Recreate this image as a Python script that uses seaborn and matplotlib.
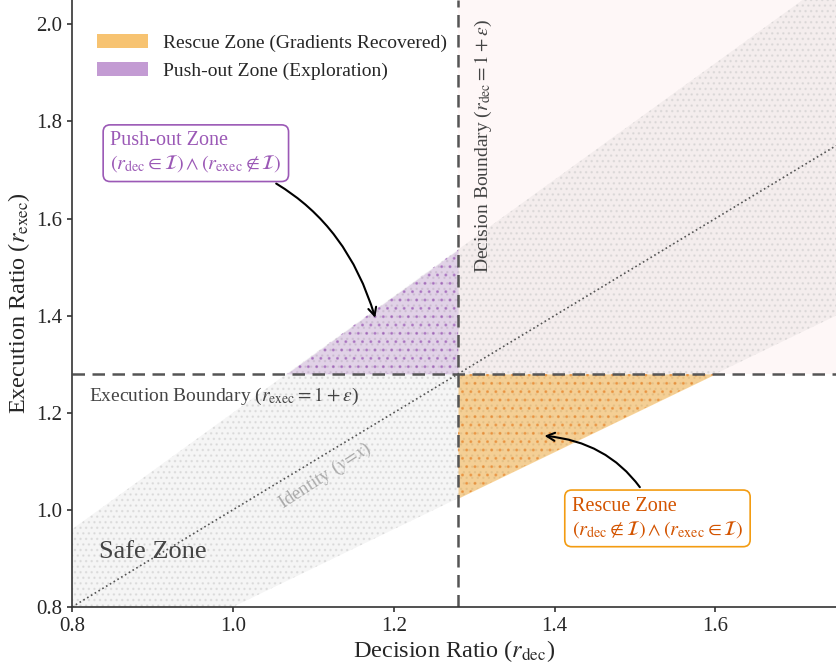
import numpy as np
import matplotlib
matplotlib.use('Agg')
import matplotlib.pyplot as plt
import seaborn as sns

# boundary / band parameters
eps = 0.28
band_lo = 0.8   # lower edge of sampled band: r_exec = 0.8 * r_dec
band_hi = 1.2   # upper edge: r_exec = 1.2 * r_dec
x_range = [0.8, 1.75]
y_range = [0.8, 2.05]
xticks = [0.8, 1.0, 1.2, 1.4, 1.6]
yticks = [0.8, 1.0, 1.2, 1.4, 1.6, 1.8, 2.0]

legend_labels = ['Rescue Zone (Gradients Recovered)', 'Push-out Zone (Exploration)']

sns.set_style('ticks')
plt.rcParams['font.family'] = ['Liberation Serif', 'DejaVu Serif']
plt.rcParams['mathtext.fontset'] = 'stix'
plt.rcParams['hatch.linewidth'] = 1.0

orange = '#F39C12'
orange_dark = '#E67E22'
purple = '#9B59B6'
purple_dark = '#8E44AD'
bound = 1 + eps

fig = plt.figure(figsize=(8.36, 6.64), dpi=100)
ax = fig.add_axes([72/836, 57/664, 764/836, 607/664])

# "both out" quadrant, faint red
ax.fill_between([bound, x_range[1]], bound, y_range[1], color='#E74C3C', alpha=0.04, lw=0)

# sampled band
bx = np.array(x_range)
ax.fill_between(bx, band_lo * bx, band_hi * bx, color='#808080', alpha=0.08, lw=0)
ax.fill_between(bx, band_lo * bx, band_hi * bx, facecolor='none', edgecolor='#c4c4c4',
                hatch='...', lw=0, alpha=0.4)

# rescue zone
rx = np.array([bound, bound / band_lo])
ax.fill_between(rx, band_lo * rx, bound, color=orange, alpha=0.42, lw=0)
ax.fill_between(rx, band_lo * rx, bound, facecolor='none', edgecolor=orange_dark,
                hatch='..', lw=0, alpha=0.5)

# push-out zone
px = np.array([bound / band_hi, bound])
ax.fill_between(px, bound, band_hi * px, color=purple, alpha=0.22, lw=0)
ax.fill_between(px, bound, band_hi * px, facecolor='none', edgecolor=purple_dark,
                hatch='..', lw=0, alpha=0.45)

# identity line
sns.lineplot(x=x_range, y=x_range, ax=ax, color='#555555', linestyle=':', lw=1.2)

# boundaries
ax.axvline(bound, color='#555555', ls='--', lw=1.8, dashes=(5, 3))
ax.axhline(bound, color='#555555', ls='--', lw=1.8, dashes=(5, 3))

# legend patches
h1 = plt.Rectangle((0, 0), 1, 1, color=orange, alpha=0.6, lw=0)
h2 = plt.Rectangle((0, 0), 1, 1, color=purple, alpha=0.6, lw=0)
ax.legend([h1, h2], legend_labels, loc='upper left', frameon=False, fontsize=14,
          handlelength=2.6, handleheight=0.7, labelspacing=0.5,
          bbox_to_anchor=(0.01, 0.972))

# text labels
ax.text(0.821, 1.234, r'Execution Boundary ($r_{\rm exec} = 1 + \varepsilon$)',
        fontsize=14, color='#444444', ha='left', va='center')
ax.text(1.312, 1.75, r'Decision Boundary ($r_{\rm dec} = 1 + \varepsilon$)',
        fontsize=14, color='#444444', rotation=90, ha='center', va='center')
ax.text(1.115, 1.07, r'Identity ($y\!=\!x$)', fontsize=13.5, color='#aaaaaa',
        rotation=33, ha='center', va='center')
ax.text(0.9, 0.914, 'Safe Zone', fontsize=19, color='#444444', ha='center', va='center')

# annotations
ax.annotate('Push-out Zone\n' + r'$(r_{\rm dec} \in \mathcal{I}) \wedge (r_{\rm exec} \notin \mathcal{I})$',
            xy=(1.178, 1.39), xytext=(0.954, 1.735), fontsize=14.5, color=purple,
            ha='center', va='center', multialignment='left',
            bbox=dict(boxstyle='round,pad=0.35', fc='white', ec=purple, lw=1.2),
            arrowprops=dict(arrowstyle='->', color='black', lw=1.5,
                            connectionstyle='arc3,rad=-0.3', shrinkA=2, shrinkB=2))
ax.annotate('Rescue Zone\n' + r'$(r_{\rm dec} \notin \mathcal{I}) \wedge (r_{\rm exec} \in \mathcal{I})$',
            xy=(1.384, 1.153), xytext=(1.528, 0.983), fontsize=14.5, color='#D35400',
            ha='center', va='center', multialignment='left',
            bbox=dict(boxstyle='round,pad=0.35', fc='white', ec=orange, lw=1.2),
            arrowprops=dict(arrowstyle='->', color='black', lw=1.5,
                            connectionstyle='arc3,rad=0.3', shrinkA=2, shrinkB=2))

ax.set_xlim(x_range)
ax.set_ylim(y_range)
ax.set_xticks(xticks)
ax.set_yticks(yticks)
ax.tick_params(labelsize=15, color='#333333', width=1.2)
ax.set_xlabel(r'Decision Ratio ($r_{\rm dec}$)', fontsize=17.5, labelpad=2)
ax.set_ylabel(r'Execution Ratio ($r_{\rm exec}$)', fontsize=17.5, labelpad=3)
for s in ['left', 'bottom']:
    ax.spines[s].set_color('#333333')
    ax.spines[s].set_linewidth(1.2)
sns.despine(ax=ax)

fig.savefig('out.png', dpi=100)
